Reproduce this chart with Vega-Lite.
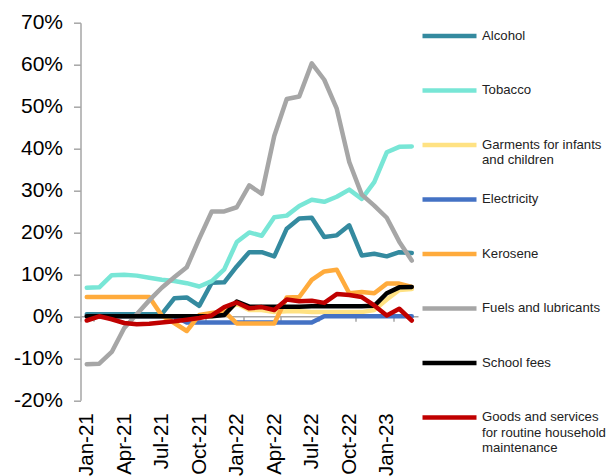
{
  "$schema": "https://vega.github.io/schema/vega-lite/v6.json",
  "width": 337.5,
  "height": 377.5,
  "autosize": "none",
  "padding": {"left": 80.5, "top": 22.7, "right": 188, "bottom": 75.8},
  "background": "#ffffff",
  "config": {"view": {"stroke": null}},
  "data": {
    "values": [
      {"month": "Jan-21", "Alcohol": 0.5, "Tobacco": 6.8, "Garments for infants and children": 0, "Electricity": 0, "Kerosene": 4.6, "Fuels and lubricants": -11.4, "School fees": 0, "Goods and services for routine household maintenance": -1.0},
      {"month": "Feb-21", "Alcohol": 0.5, "Tobacco": 6.9, "Garments for infants and children": 0, "Electricity": 0, "Kerosene": 4.6, "Fuels and lubricants": -11.3, "School fees": 0, "Goods and services for routine household maintenance": 0},
      {"month": "Mar-21", "Alcohol": 0.5, "Tobacco": 9.8, "Garments for infants and children": 0, "Electricity": 0, "Kerosene": 4.6, "Fuels and lubricants": -8.5, "School fees": 0, "Goods and services for routine household maintenance": -0.7},
      {"month": "Apr-21", "Alcohol": 0.5, "Tobacco": 9.9, "Garments for infants and children": 0, "Electricity": 0, "Kerosene": 4.6, "Fuels and lubricants": -2.8, "School fees": 0, "Goods and services for routine household maintenance": -1.6},
      {"month": "May-21", "Alcohol": 0.5, "Tobacco": 9.7, "Garments for infants and children": 0, "Electricity": 0, "Kerosene": 4.6, "Fuels and lubricants": 0.5, "School fees": 0, "Goods and services for routine household maintenance": -1.9},
      {"month": "Jun-21", "Alcohol": 0.5, "Tobacco": 9.2, "Garments for infants and children": 0, "Electricity": 0, "Kerosene": 4.6, "Fuels and lubricants": 3.8, "School fees": 0, "Goods and services for routine household maintenance": -1.8},
      {"month": "Jul-21", "Alcohol": 0.5, "Tobacco": 8.7, "Garments for infants and children": 0, "Electricity": 0, "Kerosene": 0.2, "Fuels and lubricants": 6.8, "School fees": 0, "Goods and services for routine household maintenance": -1.5},
      {"month": "Aug-21", "Alcohol": 4.3, "Tobacco": 8.4, "Garments for infants and children": 0, "Electricity": 0, "Kerosene": -1.6, "Fuels and lubricants": 9.3, "School fees": 0, "Goods and services for routine household maintenance": -1.2},
      {"month": "Sep-21", "Alcohol": 4.5, "Tobacco": 7.9, "Garments for infants and children": 0, "Electricity": -1.5, "Kerosene": -3.5, "Fuels and lubricants": 11.7, "School fees": 0, "Goods and services for routine household maintenance": -0.8},
      {"month": "Oct-21", "Alcohol": 2.5, "Tobacco": 7.1, "Garments for infants and children": 0, "Electricity": -1.5, "Kerosene": 0.3, "Fuels and lubricants": 18.5, "School fees": 0, "Goods and services for routine household maintenance": -0.4},
      {"month": "Nov-21", "Alcohol": 8.0, "Tobacco": 8.4, "Garments for infants and children": 0, "Electricity": -1.5, "Kerosene": 0.8, "Fuels and lubricants": 25, "School fees": 0, "Goods and services for routine household maintenance": 0.2},
      {"month": "Dec-21", "Alcohol": 8.1, "Tobacco": 11.2, "Garments for infants and children": 1, "Electricity": -1.5, "Kerosene": 1.2, "Fuels and lubricants": 25, "School fees": 0.3, "Goods and services for routine household maintenance": 2.2},
      {"month": "Jan-22", "Alcohol": 11.9, "Tobacco": 17.7, "Garments for infants and children": 3, "Electricity": -1.5, "Kerosene": -1.7, "Fuels and lubricants": 26, "School fees": 3.5, "Goods and services for routine household maintenance": 3.3},
      {"month": "Feb-22", "Alcohol": 15.3, "Tobacco": 20, "Garments for infants and children": 1.5, "Electricity": -1.5, "Kerosene": -1.7, "Fuels and lubricants": 31.2, "School fees": 2.3, "Goods and services for routine household maintenance": 1.9},
      {"month": "Mar-22", "Alcohol": 15.3, "Tobacco": 19.2, "Garments for infants and children": 1.5, "Electricity": -1.5, "Kerosene": -1.7, "Fuels and lubricants": 29.2, "School fees": 2.3, "Goods and services for routine household maintenance": 2.2},
      {"month": "Apr-22", "Alcohol": 14.3, "Tobacco": 23.6, "Garments for infants and children": 1, "Electricity": -1.5, "Kerosene": -1.7, "Fuels and lubricants": 43, "School fees": 2.3, "Goods and services for routine household maintenance": 1.5},
      {"month": "May-22", "Alcohol": 20.9, "Tobacco": 24, "Garments for infants and children": 1.2, "Electricity": -1.5, "Kerosene": 4.5, "Fuels and lubricants": 51.8, "School fees": 2.3, "Goods and services for routine household maintenance": 4.0},
      {"month": "Jun-22", "Alcohol": 23.3, "Tobacco": 26.3, "Garments for infants and children": 1.2, "Electricity": -1.5, "Kerosene": 4.6, "Fuels and lubricants": 52.4, "School fees": 2.3, "Goods and services for routine household maintenance": 3.6},
      {"month": "Jul-22", "Alcohol": 23.5, "Tobacco": 27.8, "Garments for infants and children": 1, "Electricity": -1.5, "Kerosene": 8.7, "Fuels and lubricants": 60.3, "School fees": 2.4, "Goods and services for routine household maintenance": 3.7},
      {"month": "Aug-22", "Alcohol": 18.9, "Tobacco": 27.3, "Garments for infants and children": 1, "Electricity": 0, "Kerosene": 10.7, "Fuels and lubricants": 56.4, "School fees": 2.4, "Goods and services for routine household maintenance": 3.2},
      {"month": "Sep-22", "Alcohol": 19.3, "Tobacco": 28.5, "Garments for infants and children": 1, "Electricity": 0, "Kerosene": 11.1, "Fuels and lubricants": 49.5, "School fees": 2.4, "Goods and services for routine household maintenance": 5.3},
      {"month": "Oct-22", "Alcohol": 21.7, "Tobacco": 30.2, "Garments for infants and children": 1, "Electricity": 0, "Kerosene": 5.5, "Fuels and lubricants": 36.8, "School fees": 2.4, "Goods and services for routine household maintenance": 5.1},
      {"month": "Nov-22", "Alcohol": 14.5, "Tobacco": 28, "Garments for infants and children": 1, "Electricity": 0, "Kerosene": 5.8, "Fuels and lubricants": 29, "School fees": 2.4, "Goods and services for routine household maintenance": 4.6},
      {"month": "Dec-22", "Alcohol": 14.9, "Tobacco": 32, "Garments for infants and children": 1.5, "Electricity": 0, "Kerosene": 5.5, "Fuels and lubricants": 26.4, "School fees": 2.5, "Goods and services for routine household maintenance": 2.6},
      {"month": "Jan-23", "Alcohol": 14.3, "Tobacco": 39.1, "Garments for infants and children": 4, "Electricity": 0, "Kerosene": 7.8, "Fuels and lubricants": 23.5, "School fees": 5.5, "Goods and services for routine household maintenance": 0.2},
      {"month": "Feb-23", "Alcohol": 15.3, "Tobacco": 40.4, "Garments for infants and children": 6.3, "Electricity": 0, "Kerosene": 7.8, "Fuels and lubricants": 17.8, "School fees": 6.9, "Goods and services for routine household maintenance": 1.8},
      {"month": "Mar-23", "Alcohol": 15.1, "Tobacco": 40.5, "Garments for infants and children": 6.5, "Electricity": 0, "Kerosene": 7.0, "Fuels and lubricants": 13.3, "School fees": 7.0, "Goods and services for routine household maintenance": -1.0}
    ]
  },
  "transform": [
    {"fold": ["Alcohol", "Tobacco", "Garments for infants and children", "Electricity", "Kerosene", "Fuels and lubricants", "School fees", "Goods and services for routine household maintenance"], "as": ["series", "value"]}
  ],
  "mark": {"type": "line", "strokeWidth": 4.5, "strokeJoin": "round", "strokeCap": "round"},
  "encoding": {
    "x": {
      "field": "month",
      "type": "ordinal",
      "sort": null,
      "scale": {"type": "band", "paddingInner": 0, "paddingOuter": 0},
      "axis": {
        "title": null,
        "values": ["Jan-21", "Apr-21", "Jul-21", "Oct-21", "Jan-22", "Apr-22", "Jul-22", "Oct-22", "Jan-23"],
        "offset": -83.9,
        "tickBand": "extent",
        "domainColor": "#A6A6A6",
        "domainWidth": 1.5,
        "tickColor": "#A6A6A6",
        "tickWidth": 1.5,
        "tickSize": 5,
        "labelAngle": -90,
        "labelAlign": "right",
        "labelBaseline": "middle",
        "labelPadding": 91.5,
        "labelFont": "Liberation Sans",
        "labelFontSize": 20.5,
        "labelColor": "#000000",
        "labelOverlap": false,
        "labelFlush": false
      }
    },
    "y": {
      "field": "value",
      "type": "quantitative",
      "scale": {"domain": [-20, 70], "nice": false, "zero": false},
      "axis": {
        "title": null,
        "values": [-20, -10, 0, 10, 20, 30, 40, 50, 60, 70],
        "labelExpr": "datum.value + '%'",
        "grid": false,
        "domainColor": "#A6A6A6",
        "domainWidth": 1.5,
        "tickColor": "#A6A6A6",
        "tickWidth": 1.5,
        "tickSize": 7,
        "labelPadding": 11,
        "labelFont": "Liberation Sans",
        "labelFontSize": 21,
        "labelColor": "#000000",
        "labelFlush": false,
        "labelOverlap": false
      }
    },
    "color": {
      "field": "series",
      "type": "nominal",
      "scale": {
        "domain": ["Alcohol", "Tobacco", "Garments for infants and children", "Electricity", "Kerosene", "Fuels and lubricants", "School fees", "Goods and services for routine household maintenance"],
        "range": ["#348A9F", "#78E6D6", "#FFE283", "#4472C4", "#FFAB3C", "#A6A6A6", "#000000", "#C00000"]
      },
      "legend": {
        "orient": "none",
        "legendX": 339.5,
        "legendY": -16.3,
        "title": null,
        "padding": 0,
        "symbolType": "stroke",
        "symbolSize": 2916,
        "symbolStrokeWidth": 4.5,
        "labelFont": "Liberation Sans",
        "labelFontSize": 13.2,
        "labelColor": "#222222",
        "labelOffset": 3,
        "labelLimit": 250,
        "rowPadding": 3.5,
        "labelExpr": "datum.label == 'Garments for infants and children' ? ['Garments for infants', 'and children'] : datum.label == 'Goods and services for routine household maintenance' ? ['Goods and services', 'for routine household', 'maintenance'] : [datum.label, ' ']",
        "encode": {"labels": {"update": {"lineHeight": {"value": 15.3}}}}
      }
    }
  }
}
